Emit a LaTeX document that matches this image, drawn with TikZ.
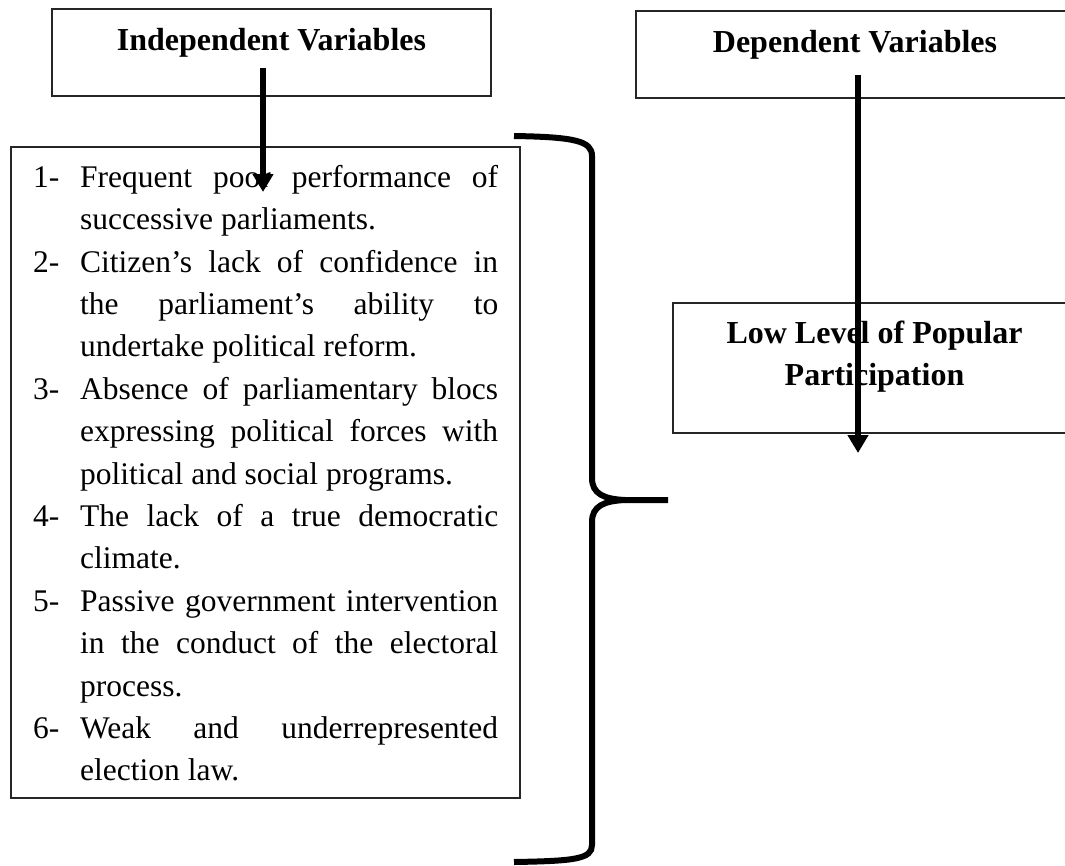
\documentclass[tikz,border=0pt]{standalone}
\usepackage{fontspec}
\setmainfont{Liberation Serif}
\usetikzlibrary{arrows.meta}
\newcommand\jl[1]{\makebox[418pt][s]{#1}}
\newcommand\lbl[1]{\makebox[47pt][l]{#1}}
\newcommand\ind{\hspace*{47pt}}
\tikzset{
  frame/.style={draw=black!85, line width=1.3pt, inner sep=0pt, fill=none},
  hd/.style={font=\fontsize{32}{42}\selectfont\bfseries, inner sep=0pt},
  body/.style={font=\fontsize{31.5}{42.4}\selectfont, inner sep=0pt},
  flow/.style={line width=6pt, -{Triangle[width=20pt,length=18pt]}},
  bracestroke/.style={line width=6pt, line cap=butt}
}
\begin{document}
\begin{tikzpicture}[x=1pt,y=-1pt]
\useasboundingbox[fill=white] (0,0) rectangle (1065,865);

% boxes
\node[frame, minimum width=439pt, minimum height=87pt] (indep) at (271.5,52.5) {};
\node[frame, minimum width=438pt, minimum height=87pt] (dep) at (855,54.5) {};
\node[frame, minimum width=509pt, minimum height=651pt] (items) at (265.5,472.5) {};
\node[frame, minimum width=403pt, minimum height=130pt] (low) at (874.5,368) {};

% labels
\node[hd, anchor=base] (indeplbl) at (271.5,50) {Independent Variables};
\node[hd, anchor=base] (deplbl) at (855,52) {Dependent Variables};
\node[hd, anchor=base] (lowlbl1) at (874.5,343) {Low Level of Popular};
\node[hd, anchor=base] (lowlbl2) at (874.5,385) {Participation};

\node[body, anchor=north west, align=left] (itemtext) at (33,157) {%
\rule{0pt}{30pt}\lbl{1-}\jl{Frequent poor performance of}\\
\ind successive parliaments.\\
\lbl{2-}\jl{Citizen’s lack of confidence in}\\
\ind\jl{the parliament’s ability to}\\
\ind undertake political reform.\\
\lbl{3-}\jl{Absence of parliamentary blocs}\\
\ind\jl{expressing political forces with}\\
\ind political and social programs.\\
\lbl{4-}\jl{The lack of a true democratic}\\
\ind climate.\\
\lbl{5-}\jl{Passive government intervention}\\
\ind\jl{in the conduct of the electoral}\\
\ind process.\\
\lbl{6-}\jl{Weak and underrepresented}\\
\ind election law.};

% arrows
\coordinate (a1from) at (263,68);
\coordinate (a1to) at (263,192);
\coordinate (a2from) at (858,75);
\coordinate (a2to) at (858,453);
\draw[flow] (a1from) -- (a1to);
\draw[flow] (a2from) -- (a2to);

% brace
\draw[bracestroke] (514,136) .. controls (575,137) and (592,141) .. (592,156)
  -- (592,478) .. controls (592,494) and (604,499) .. (625,500) -- (668,500);
\draw[bracestroke] (625,500) .. controls (604,501) and (592,506) .. (592,522)
  -- (592,845) .. controls (592,859) and (575,861) .. (514,862);
\end{tikzpicture}
\end{document}
